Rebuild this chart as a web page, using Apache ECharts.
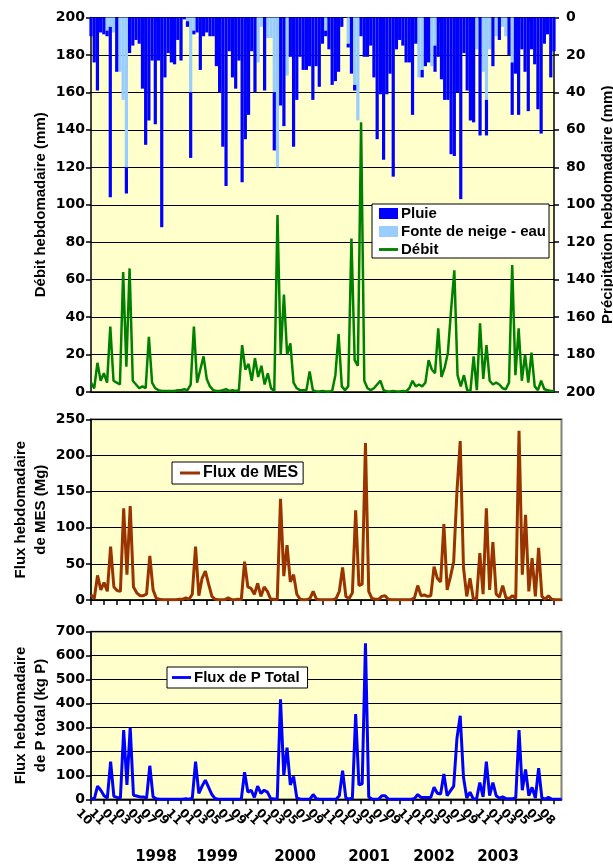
<!DOCTYPE html>
<html><head><meta charset="utf-8">
<script src="https://cdn.jsdelivr.net/npm/echarts@6/dist/echarts.min.js"></script>
<style>html,body{margin:0;padding:0;background:#fff}#c{width:613px;height:864px}</style>
</head><body><div id="c"></div>
<script>
// ---- tick labels ----
const monthTicks = ['10','11','01','03','05','07','09','11','01','03','05','07','09','11','01','03','05','07','09','11','01','03','05','07','09','11','01','03','05','07','09','11','01','03','05','07','08'];
const yearLabels = ['1998','1999','2000','2001','2002','2003'];

// ---- weekly (approx. 2-week steps) series ----
const pluie = [10,24,39,8,9,3,91,0,29,0,
  0,14,19,15,12,14,38,68,55,23,
  57,23,112,32,19,24,25,12,23,1,
  3,35,2,8,28,10,8,10,10,26,
  40,69,90,18,32,38,23,88,65,52,
  18,40,0,0,39,0,0,31,0,47,
  58,0,21,69,44,21,28,28,26,44,
  26,37,14,3,17,36,34,29,5,0,
  2,30,3,0,10,21,21,15,32,65,
  41,76,41,30,85,17,12,15,24,24,
  52,14,0,4,26,24,0,14,21,33,
  44,44,73,74,40,97,19,39,55,56,
  0,63,0,19,0,26,0,12,0,0,
  20,28,30,52,17,29,50,17,25,49,
  62,14,9,32,18];
const fonte = [0,0,0,0,0,7,5,8,0,29,
  44,80,0,0,0,0,0,0,0,0,
  0,0,0,0,0,0,0,0,0,0,
  2,40,7,0,0,0,0,0,0,0,
  0,0,0,0,0,0,0,0,0,0,
  0,0,24,5,0,11,11,40,80,0,
  0,31,0,0,0,0,0,0,0,0,
  0,0,0,7,0,0,0,0,0,0,
  14,0,36,55,0,0,0,0,0,0,
  0,0,0,0,0,0,0,0,0,0,
  0,0,32,28,0,0,26,15,0,0,
  0,0,0,0,0,0,0,0,0,0,
  17,0,29,44,17,0,10,0,5,10,
  0,24,0,0,0,0,0,0,0,0,
  0,0,0,0,0];
const debit = [5,2,15.6,6,10,5,35,6,5,4,
  64,13.5,66,6,4,2,3,2,29.5,5,
  2,1,0.5,0.5,0.5,0.5,0.5,1,1,1.5,
  1,4,35,5,12,19,7,3,1,0.5,
  0.5,1,1.5,0.5,1,0.5,1,25,12,15,
  6,18,8,14,4,10,2,0.5,94.5,20,
  52,20,26,5,2,1,1,1,11,1,
  0.3,0.3,0.5,0.3,0.3,0.5,9,31,3,1,
  3,82,17,14,144,6,2,1,2,4,
  6,1,0.3,0.3,0.5,0.3,0.3,0.5,0.3,2,
  6,3,4,3,5,17,12,10,34,8,
  13,21,44,65,9,3,9,1,0.5,19,
  1,36.7,7,25,6,4,5,4,2,1.5,
  5,67.8,9,34,6,20,5,21,3,1,
  6,1.5,1,0.5,0.5];
const mes = [7,2,34,14,24,12,74,18,13,12,
  127,35,130,18,10,6,6,8,61,14,
  2,1,0.5,0.5,0.5,0.5,0.5,1,1,3,
  1,8,74,6,30,40,22,5,1,0.5,
  0.5,0.5,3,0.5,0.5,1,0.5,53,18,16,
  8,23,5,18,12,1,1,0.5,140,33,
  76,25,35,8,1,0.5,0.5,2,12,1,
  0.5,0.5,0.5,0.5,0.5,2,12,45,5,2,
  10,124,20,22,217,12,2,1,1,5,
  6,1,0.5,0.5,0.5,0.5,0.5,0.5,0.5,3,
  20,6,7,5,6,46,30,25,105,14,
  32,53,150,220,45,5,30,2,1,65,
  8,127,14,80,8,4,20,3,2,6,
  2,234,35,118,12,58,5,72,5,1,
  6,1,0.5,0.5,0.5];
const ptot = [4,1,55,38,15,5,157,12,8,5,
  289,60,300,17,14,10,10,5,140,10,
  2,0.5,0.5,0.5,0.5,0.5,0.5,0.5,0.5,2,
  0.5,5,157,25,55,80,50,20,3,0.5,
  0.5,0.5,0.5,0.5,0.5,0.5,0.5,113,30,38,
  8,55,25,38,30,3,1,2,418,100,
  216,60,95,5,1,0.5,0.5,0.5,20,2,
  0.5,0.5,0.5,0.5,0.5,0.5,15,120,5,1,
  5,356,60,65,652,10,1,0.5,0.5,15,
  15,1,0.5,0.5,0.5,0.5,0.5,0.5,0.5,3,
  20,8,8,8,8,50,25,22,106,15,
  35,55,254,349,92,5,30,2,1,70,
  10,157,15,70,15,5,10,3,2,2,
  7,289,38,125,15,50,5,130,5,1,
  8,1,0.5,0.5,0.5];

// ---- layout / style ----
const periods = pluie.map((_, i) => String(i));
const FONT = 'Liberation Sans';
const NUMFONT = 'DejaVu Sans';
const BG = '#FFFFCC';
const yearX = [156, 217, 295, 369, 434, 498];
const LINE_ICON = 'path://M0,0h20v3h-20z';

const numLabel = (m) => ({fontFamily: NUMFONT, fontWeight: 'bold', fontSize: 14, color: '#000', margin: m});
const nameStyle = {fontFamily: FONT, fontWeight: 'bold', fontSize: 15, color: '#000', lineHeight: 20};
const blackLine = {show: true, lineStyle: {color: '#000', width: 1.5}};
const tickOut = {show: true, inside: false, length: 5, lineStyle: {color: '#000', width: 1.5}};

function dataX(g) {
  return {gridIndex: g, type: 'category', data: periods, boundaryGap: false, position: 'bottom',
    axisLine: blackLine, axisTick: {show: false}, axisLabel: {show: false}, splitLine: {show: false}};
}
function tickX(g) {
  return {gridIndex: g, type: 'category', data: monthTicks, boundaryGap: false, position: 'bottom',
    axisLine: {show: false}, axisTick: Object.assign({interval: 0}, tickOut), axisLabel: {show: false}, splitLine: {show: false}};
}
function hiddenY(g) {
  return {gridIndex: g, type: 'value', min: 0, max: 1, show: false};
}
function yName(name, gap) {
  return {name: name, nameLocation: 'middle', nameGap: gap, nameRotate: 90, nameMoveOverlap: false, nameTextStyle: nameStyle};
}
function grid(left, top, width, height, framed, border) {
  const g = {left: left, top: top, width: width, height: height, containLabel: false, outerBoundsMode: 'none'};
  if (framed) Object.assign(g, {show: true, backgroundColor: BG, borderColor: '#808080', borderWidth: border});
  return g;
}

const option = {
  animation: false,
  textStyle: {fontFamily: FONT},
  grid: [
    grid(91, 17.5, 463, 374.5, true, 0),
    grid(91, 419.3, 470.5, 180.7, true, 2),
    grid(91, 419.3, 463, 180.7, false),
    grid(91, 631.7, 470.5, 167.6, true, 2),
    grid(91, 631.7, 463, 167.6, false),
    grid(78, 631.7, 463, 167.6, false)
  ],
  xAxis: [
    dataX(0), tickX(0),
    dataX(1), tickX(2),
    dataX(3), tickX(4),
    {gridIndex: 5, type: 'category', data: monthTicks, boundaryGap: false, position: 'bottom',
      axisLine: {show: false}, axisTick: {show: false}, splitLine: {show: false},
      axisLabel: {show: true, interval: 0, rotate: -45, margin: 12, align: 'left', verticalAlign: 'middle',
        hideOverlap: false,
        fontFamily: NUMFONT, fontWeight: 'bold', fontSize: 12, color: '#000'}}
  ],
  yAxis: [
    Object.assign({gridIndex: 0, type: 'value', min: 0, max: 200, interval: 20, position: 'left',
      axisLine: blackLine, axisTick: tickOut, axisLabel: numLabel(6),
      splitLine: {show: true, lineStyle: {color: '#000', width: 1}}}, yName('Débit hebdomadaire (mm)', 40)),
    Object.assign({gridIndex: 0, type: 'value', min: 0, max: 200, interval: 20, position: 'right', inverse: true,
      axisLine: blackLine, axisTick: tickOut, axisLabel: numLabel(12), splitLine: {show: false}},
      yName('Précipitation hebdomadaire (mm)', 44)),
    Object.assign({gridIndex: 1, type: 'value', min: 0, max: 250, interval: 50, position: 'left',
      axisLine: blackLine, axisTick: tickOut, axisLabel: numLabel(6),
      splitLine: {show: true, lineStyle: {color: '#000', width: 1}}}, yName('Flux hebdomadaire\nde MES (Mg)', 40)),
    hiddenY(2),
    Object.assign({gridIndex: 3, type: 'value', min: 0, max: 700, interval: 100, position: 'left',
      axisLine: blackLine, axisTick: tickOut, axisLabel: numLabel(6),
      splitLine: {show: true, lineStyle: {color: '#000', width: 1}}}, yName('Flux hebdomadaire\nde P total (kg P)', 40)),
    hiddenY(4),
    hiddenY(5)
  ],
  legend: [
    {data: [{name: 'Pluie', icon: 'rect'}, {name: 'Fonte de neige - eau', icon: 'rect'}, {name: 'Débit', icon: LINE_ICON}],
      orient: 'vertical', left: 372, top: 204, itemGap: 3, itemWidth: 19, itemHeight: 11,
      padding: [2, 3, 1, 7], backgroundColor: '#fff', borderColor: '#000', borderWidth: 1, borderRadius: 0,
      textStyle: {fontFamily: FONT, fontWeight: 'bold', fontSize: 15, color: '#000', padding: [0, 0, 0, -2]}},
    {data: [{name: 'Flux de MES', icon: LINE_ICON}], orient: 'vertical', left: 172, top: 462, itemWidth: 20, itemHeight: 11,
      padding: [3, 5, 3, 8], backgroundColor: '#fff', borderColor: '#000', borderWidth: 1, borderRadius: 0,
      textStyle: {fontFamily: FONT, fontWeight: 'bold', fontSize: 16, color: '#000', padding: [0, 0, 0, -2]}},
    {data: [{name: 'Flux de P Total', icon: LINE_ICON}], orient: 'vertical', left: 167, top: 667, itemWidth: 19, itemHeight: 11,
      padding: [3, 8, 3, 5], backgroundColor: '#fff', borderColor: '#000', borderWidth: 1, borderRadius: 0,
      textStyle: {fontFamily: FONT, fontWeight: 'bold', fontSize: 15, color: '#000', padding: [0, 0, 0, -2]}}
  ],
  series: [
    {name: 'Fonte de neige - eau', type: 'bar', xAxisIndex: 0, yAxisIndex: 1, stack: 'precip', data: fonte,
      barWidth: '100%', itemStyle: {color: '#99CCFF'}},
    {name: 'Pluie', type: 'bar', xAxisIndex: 0, yAxisIndex: 1, stack: 'precip', data: pluie,
      barWidth: '100%', itemStyle: {color: '#0000FF'}},
    {name: 'Débit', type: 'line', xAxisIndex: 0, yAxisIndex: 0, data: debit, symbol: 'none',
      itemStyle: {color: '#008000'}, lineStyle: {color: '#008000', width: 2.5}},
    {name: 'Flux de MES', type: 'line', xAxisIndex: 2, yAxisIndex: 2, data: mes, symbol: 'none',
      itemStyle: {color: '#993300'}, lineStyle: {color: '#993300', width: 3}},
    {name: 'Flux de P Total', type: 'line', xAxisIndex: 4, yAxisIndex: 4, data: ptot, symbol: 'none',
      itemStyle: {color: '#0000FF'}, lineStyle: {color: '#0000FF', width: 3}}
  ],
  graphic: yearLabels.map((t, k) => ({
    type: 'text', x: yearX[k], y: 857,
    style: {text: t, fill: '#000', font: 'bold 15px "DejaVu Sans"', textAlign: 'center', textVerticalAlign: 'middle',
      align: 'center', verticalAlign: 'middle'}
  }))
};

const chart = echarts.init(document.getElementById('c'), null, {renderer: 'canvas'});
chart.setOption(option);
</script>
</body></html>
